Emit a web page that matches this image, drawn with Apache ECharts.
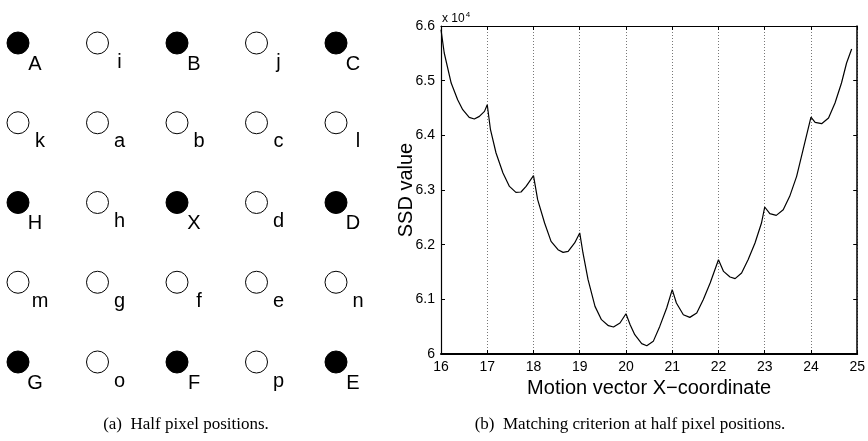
<!DOCTYPE html>
<html>
<head>
<meta charset="utf-8">
<script src="https://cdn.jsdelivr.net/npm/echarts@6/dist/echarts.min.js"></script>
<style>
html,body{margin:0;padding:0;background:#fff;}
#chart{width:868px;height:441px;}
</style>
</head>
<body>
<div id="chart"></div>
<script>
// ---- Panel (a): half pixel positions ----
const gridLabels = [
  ['A','i','B','j','C'],
  ['k','a','b','c','l'],
  ['H','h','X','d','D'],
  ['m','g','f','e','n'],
  ['G','o','F','p','E']
];
const fullPel = [
  [1,0,1,0,1],
  [0,0,0,0,0],
  [1,0,1,0,1],
  [0,0,0,0,0],
  [1,0,1,0,1]
];

// ---- Panel (b): SSD vs motion vector x ----
const mvX = [16.0,16.07,16.22,16.36,16.47,16.61,16.72,16.83,16.94,17.0,
  17.07,17.19,17.34,17.48,17.62,17.73,17.84,18.0,
  18.09,18.24,18.38,18.53,18.64,18.75,18.89,19.0,
  19.07,19.18,19.33,19.47,19.62,19.73,19.87,20.0,
  20.09,20.19,20.34,20.45,20.59,20.73,20.88,21.0,
  21.09,21.24,21.38,21.53,21.67,21.82,22.0,
  22.11,22.25,22.36,22.5,22.64,22.79,22.93,23.0,
  23.11,23.25,23.4,23.54,23.69,23.83,24.0,
  24.09,24.23,24.38,24.52,24.66,24.77,24.88];
const ssd = [65932,65506,64957,64652,64469,64328,64299,64347,64438,64560,
  64103,63677,63311,63066,62956,62963,63066,63262,
  62823,62396,62060,61908,61859,61877,62031,62214,
  61848,61359,60871,60628,60518,60494,60567,60737,
  60536,60353,60189,60152,60231,60505,60842,61177,
  60933,60719,60670,60750,60994,61299,61725,
  61511,61408,61378,61482,61725,62031,62396,62689,
  62567,62536,62640,62884,63250,63737,64335,
  64237,64213,64317,64592,64957,65323,65579];
const xTicks = [16,17,18,19,20,21,22,23,24,25];
const yTickScale = 10000;

const SANS = "'Liberation Sans', Arial, sans-serif";
const SERIF = "'Liberation Serif', 'Times New Roman', serif";

const pelData = [];
gridLabels.forEach((row, r) => row.forEach((name, c) => {
  const filled = fullPel[r][c] === 1;
  pelData.push({
    value: [c, r],
    name: name,
    itemStyle: { color: filled ? '#000' : '#fff', borderColor: '#000', borderWidth: 1, opacity: 1 },
    label: { offset: filled ? [17, 21] : [22, 19] }
  });
}));

const lineData = mvX.map((x, i) => [x, ssd[i]]);

const chart = echarts.init(document.getElementById('chart'), null, { renderer: 'canvas' });
chart.setOption({
  backgroundColor: '#fff',
  animation: false,
  textStyle: { fontFamily: SANS },
  grid: [
    { left: 18, top: 43, width: 318, height: 319 },
    { left: 441, top: 26, right: 10, bottom: 87 }
  ],
  xAxis: [
    { gridIndex: 0, type: 'value', min: 0, max: 4, show: false },
    { gridIndex: 1, type: 'value', min: xTicks[0], max: xTicks[xTicks.length - 1], interval: 1,
      position: 'bottom',
      axisLine: { show: true, onZero: false, lineStyle: { color: '#000', width: 2 } },
      axisTick: { show: true, inside: true, length: 4, lineStyle: { color: '#000' } },
      axisLabel: { color: '#000', fontSize: 14, margin: 6, fontFamily: SANS },
      splitLine: { show: true, lineStyle: { color: '#777', width: 1, type: [1, 2] } },
      name: 'Motion vector X\u2212coordinate', nameLocation: 'middle', nameGap: 19,
      nameTextStyle: { color: '#000', fontSize: 20, fontFamily: SANS } },
    { gridIndex: 1, type: 'value', min: xTicks[0], max: xTicks[xTicks.length - 1], interval: 1,
      position: 'top',
      axisLine: { show: true, onZero: false, lineStyle: { color: '#000', width: 1.2 } },
      axisTick: { show: true, inside: true, length: 4, lineStyle: { color: '#000' } },
      axisLabel: { show: false }, splitLine: { show: false } }
  ],
  yAxis: [
    { gridIndex: 0, type: 'value', min: 0, max: 4, inverse: true, show: false },
    { gridIndex: 1, type: 'value', min: 60000, max: 66000, interval: 1000, position: 'left',
      axisLine: { show: true, onZero: false, lineStyle: { color: '#000', width: 1.2 } },
      axisTick: { show: true, inside: true, length: 4, lineStyle: { color: '#000' } },
      axisLabel: { color: '#000', fontSize: 14, margin: 6, fontFamily: SANS,
        formatter: v => String(parseFloat((v / yTickScale).toFixed(2))) },
      splitLine: { show: false },
      name: 'SSD value', nameLocation: 'middle', nameGap: 25, nameRotate: 90,
      nameMoveOverlap: false,
      nameTextStyle: { color: '#000', fontSize: 20, fontFamily: SANS } },
    { gridIndex: 1, type: 'value', min: 60000, max: 66000, interval: 1000, position: 'right',
      axisLine: { show: true, onZero: false, lineStyle: { color: '#000', width: 1.5 } },
      axisTick: { show: true, inside: true, length: 4, lineStyle: { color: '#000' } },
      axisLabel: { show: false }, splitLine: { show: false } }
  ],
  series: [
    { type: 'scatter', xAxisIndex: 0, yAxisIndex: 0, symbol: 'circle', symbolSize: 22,
      clip: false, data: pelData,
      label: { show: true, position: 'inside', formatter: p => p.name,
        color: '#000', fontSize: 20, fontFamily: SANS } },
    { type: 'line', xAxisIndex: 1, yAxisIndex: 1, data: lineData, showSymbol: false,
      symbol: 'none', smooth: false,
      lineStyle: { color: '#000', width: 1.2 } }
  ],
  graphic: [
    { type: 'text', left: 442, top: 11,
      style: { text: '{a|x 10}{b|4}', fill: '#000',
        rich: { a: { fontSize: 12, fontFamily: SANS, verticalAlign: 'bottom' },
                b: { fontSize: 8, fontFamily: SANS, verticalAlign: 'top', padding: [0, 0, 6, 1] } } } },
    { type: 'text', x: 186, y: 425,
      style: { text: '(a)  Half pixel positions.', fill: '#000', font: '17px ' + SERIF,
        textAlign: 'center', textVerticalAlign: 'middle' } },
    { type: 'text', x: 630, y: 425,
      style: { text: '(b)  Matching criterion at half pixel positions.', fill: '#000', font: '17px ' + SERIF,
        textAlign: 'center', textVerticalAlign: 'middle' } }
  ]
});
</script>
</body>
</html>
